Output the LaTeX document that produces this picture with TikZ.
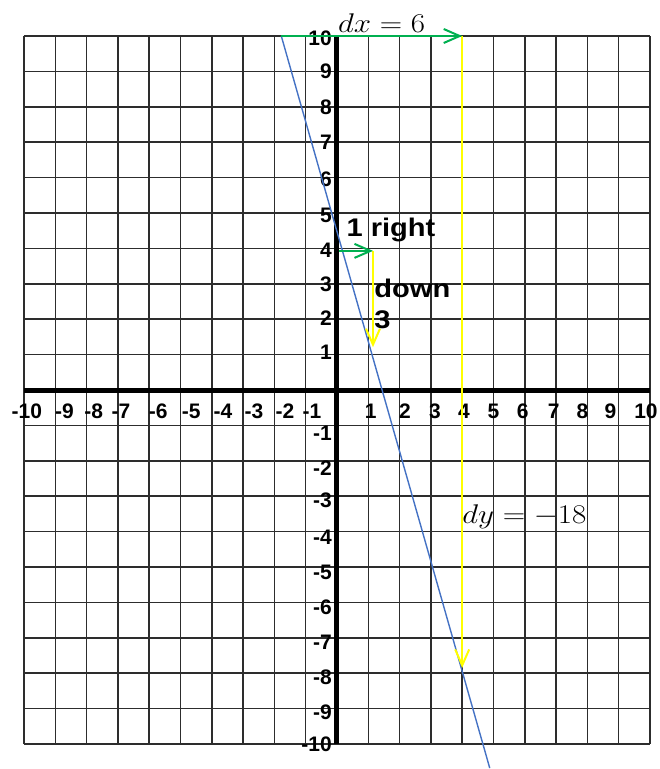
\documentclass[tikz,border=0pt]{standalone}
\usepackage{fix-cm}
\usepackage{fontspec}
\setmainfont{Liberation Sans}
\usetikzlibrary{arrows.meta}
\definecolor{offgreen}{RGB}{0,176,80}
\definecolor{offyellow}{RGB}{255,255,0}
\definecolor{offblue}{RGB}{68,114,196}
\definecolor{gridgray}{RGB}{45,45,45}
\tikzset{
  gridline/.style={draw=gridgray, line width=1.5pt},
  axisline/.style={draw=black, line width=5pt},
  fnline/.style={draw=offblue, line width=1.4pt},
  tip/.style={-{Straight Barb[length=16pt,width=14pt]}},
  garrow/.style={draw=offgreen, line width=2pt, tip},
  yarrow/.style={draw=offyellow, line width=2pt, tip},
  ticklbl/.style={font=\bfseries\fontsize{21}{21}\selectfont, inner sep=0pt},
  ann/.style={font=\bfseries\fontsize{25.5}{31}\selectfont, inner sep=0pt, xscale=1.14, align=left},
  mathlbl/.style={font=\fontsize{27}{30}\selectfont, inner sep=0pt, xscale=1.15}
}
\begin{document}
\begin{tikzpicture}[x=31.3pt,y=35.4pt]
\useasboundingbox (-337pt,-379pt) rectangle (323pt,390pt);
% grid
\draw[gridline, step=1] (-10,-10) grid (10,10);
% axes
\coordinate (xl) at (-10,0); \coordinate (xr) at (10,0);
\coordinate (yb) at (0,-10); \coordinate (yt) at (0,10);
\draw[axisline] (xl) -- (xr);
\draw[axisline] (yb) -- (yt);
% x tick labels
\foreach \v/\p in {-10/-9.91,-9/-8.71,-8/-7.77,-7/-6.90,-6/-5.71,-5/-4.66,-4/-3.64,-3/-2.65,-2/-1.66,-1/-0.80,
                   1/1.08,2/2.17,3/3.13,4/4.06,5/5.0,6/5.93,7/6.92,8/7.84,9/8.74,10/9.87}
  \node[ticklbl] (xt\v) at (\p,-0.607) {\v};
% y tick labels
\foreach \v/\p in {10/9.93,9/9,8/8,7/7,6/5.95,5/4.92,4/3.96,3/3,2/2.04,1/1.06,
                   -1/-1.22,-2/-2.22,-3/-3.12,-4/-4.16,-5/-5.14,-6/-6.14,-7/-7.13,-8/-8.12,-9/-9.11,-10/-10.02}
  \node[ticklbl, anchor=east] (yt\v) at ([xshift=-5pt]0,\p) {\v};
% line
\coordinate (L1) at (-1.78,10);
\coordinate (L2) at (4.88,-10.68);
\draw[fnline] (L1) -- (L2);
% big run/rise
\coordinate (P4) at (4,10);
\coordinate (Q4) at (4,-7.85);
\draw[yarrow] (P4) -- (Q4);
\draw[garrow] (L1) -- (P4);
% small run/rise
\coordinate (S0) at (0.05,3.93);
\coordinate (S1) at (1.15,3.93);
\coordinate (S2) at (1.15,1.21);
\draw[yarrow] (S1) -- (S2);
\draw[garrow] (S0) -- (S1);
% labels
\node[mathlbl, anchor=base west] (dxl) at (0.03,10.09) {$dx = 6$};
\node[mathlbl, anchor=base west] (dyl) at (4.0,-3.76) {$dy = -18$};
\node[ann, anchor=base west] (oner) at (0.30,4.33) {1 right};
\node[ann, anchor=base west] (down) at (1.19,1.75) {down\\3};
\end{tikzpicture}
\end{document}
